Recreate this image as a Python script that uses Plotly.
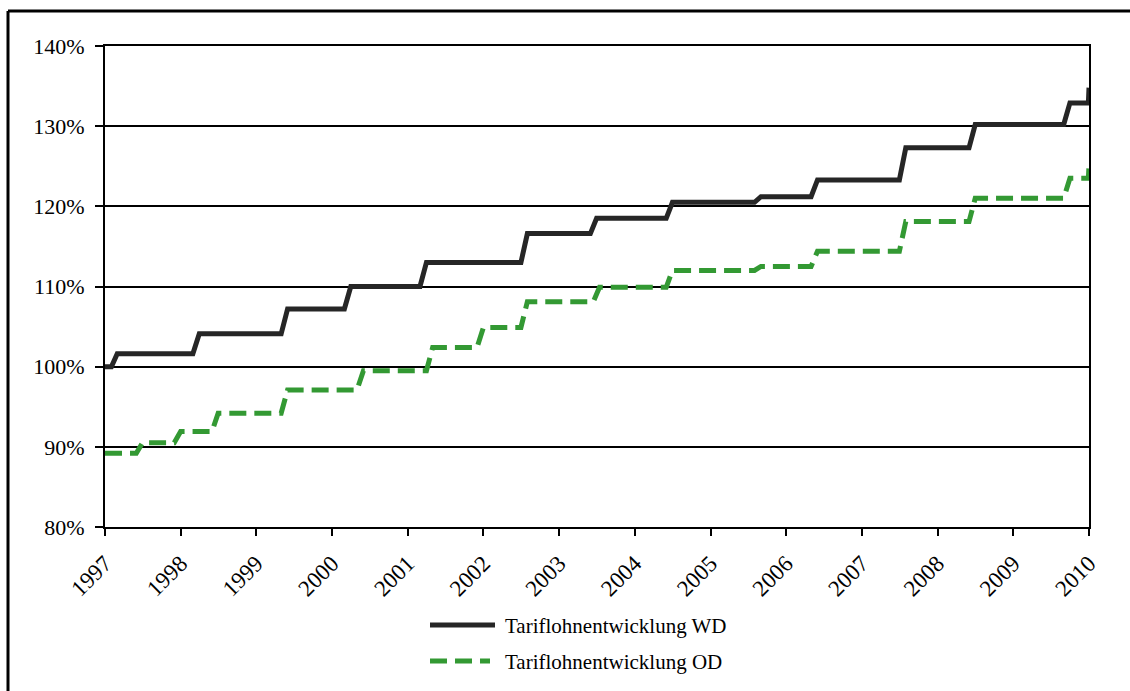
import plotly.graph_objects as go

# --- data ---
wd_dates = ["1997-01-01", "1997-02-01", "1997-03-01", "1998-03-01", "1998-04-01",
            "1999-05-01", "1999-06-01", "2000-03-01", "2000-04-01", "2001-03-01",
            "2001-04-01", "2002-07-01", "2002-08-01", "2003-06-01", "2003-07-01",
            "2004-06-01", "2004-07-01", "2005-08-01", "2005-09-01", "2006-05-01",
            "2006-06-01", "2007-07-01", "2007-08-01", "2008-06-01", "2008-07-01",
            "2009-09-01", "2009-10-01", "2009-12-29", "2010-01-01"]
wd_values = [100.0, 100.0, 101.6, 101.6, 104.1,
             104.1, 107.2, 107.2, 110.0, 110.0,
             113.0, 113.0, 116.6, 116.6, 118.5,
             118.5, 120.5, 120.5, 121.2, 121.2,
             123.3, 123.3, 127.3, 127.3, 130.2,
             130.2, 132.9, 132.9, 134.8]

od_dates = ["1997-01-01", "1997-06-01", "1997-07-01", "1997-12-01", "1998-01-01",
            "1998-06-01", "1998-07-01", "1999-05-01", "1999-06-01", "2000-05-01",
            "2000-06-01", "2001-04-01", "2001-05-01", "2001-12-01", "2002-01-01",
            "2002-07-01", "2002-08-01", "2003-06-15", "2003-07-15", "2004-06-01",
            "2004-07-01", "2005-08-01", "2005-09-01", "2006-05-01", "2006-06-01",
            "2007-07-01", "2007-08-01", "2008-06-01", "2008-07-01", "2009-09-01",
            "2009-10-01", "2009-12-29", "2010-01-01"]
od_values = [89.2, 89.2, 90.5, 90.5, 91.9,
             91.9, 94.2, 94.2, 97.1, 97.1,
             99.5, 99.5, 102.4, 102.4, 104.9,
             104.9, 108.1, 108.1, 109.9, 109.9,
             112.0, 112.0, 112.5, 112.5, 114.4,
             114.4, 118.1, 118.1, 121.0, 121.0,
             123.5, 123.5, 125.1]

year_labels = [str(y) for y in range(1997, 2011)]
year_ticks = [f"{y}-01-01" for y in year_labels]
y_ticks = [80, 90, 100, 110, 120, 130, 140]

series_names = ["Tariflohnentwicklung WD", "Tariflohnentwicklung OD"]
WD_COLOR = "#262626"
OD_COLOR = "#339933"
FONT = "Liberation Serif, Times New Roman, serif"

fig = go.Figure()
fig.add_trace(go.Scatter(x=wd_dates, y=wd_values, mode="lines", name=series_names[0],
                         line=dict(color=WD_COLOR, width=5), showlegend=False))
fig.add_trace(go.Scatter(x=od_dates, y=od_values, mode="lines", name=series_names[1],
                         line=dict(color=OD_COLOR, width=5, dash="17px,8px"),
                         showlegend=False))

W, H = 1130, 691
L, R, T, B = 105, 41, 46, 164
pw, ph = W - L - R, H - T - B


def px(xp):
    return (xp - L) / pw


def py(yp):
    return (H - B - yp) / ph


shapes = []
# outer frame (top and left edges visible)
shapes.append(dict(type="line", xref="paper", yref="paper", x0=px(8), x1=px(1140),
                   y0=py(11), y1=py(11), line=dict(color="black", width=3)))
shapes.append(dict(type="line", xref="paper", yref="paper", x0=px(8), x1=px(8),
                   y0=py(11), y1=py(700), line=dict(color="black", width=3)))
# manual legend samples
shapes.append(dict(type="line", xref="paper", yref="paper", x0=px(430), x1=px(495),
                   y0=py(625), y1=py(625), line=dict(color=WD_COLOR, width=5)))
shapes.append(dict(type="line", xref="paper", yref="paper", x0=px(430), x1=px(490),
                   y0=py(661), y1=py(661),
                   line=dict(color=OD_COLOR, width=5, dash="17px,8px")))

annotations = [
    dict(text=series_names[0], xref="paper", yref="paper", x=px(503), y=py(626),
         xanchor="left", yanchor="middle", showarrow=False,
         font=dict(family=FONT, size=21, color="black")),
    dict(text=series_names[1], xref="paper", yref="paper", x=px(503), y=py(662),
         xanchor="left", yanchor="middle", showarrow=False,
         font=dict(family=FONT, size=21, color="black")),
]

fig.update_layout(
    width=W, height=H,
    margin=dict(l=L, r=R, t=T, b=B, pad=0),
    paper_bgcolor="white", plot_bgcolor="white",
    font=dict(family=FONT, size=22, color="black"),
    shapes=shapes, annotations=annotations,
    showlegend=False,
)
fig.update_xaxes(
    type="date", range=["1997-01-01", "2010-01-01"],
    tickmode="array", tickvals=year_ticks, ticktext=year_labels,
    tickangle=-45, ticks="outside", ticklen=7, tickwidth=2, tickcolor="black",
    showline=True, linecolor="black", linewidth=2, mirror=True,
    showgrid=False, zeroline=False, ticklabelstandoff=5,
    tickfont=dict(family=FONT, size=23, color="black"),
)
fig.update_yaxes(
    range=[80, 140], tickmode="array", tickvals=y_ticks,
    ticktext=[f"{v}%" for v in y_ticks],
    ticks="outside", ticklen=8, tickwidth=2, tickcolor="black",
    showline=True, linecolor="black", linewidth=2, mirror=True,
    showgrid=True, gridcolor="black", gridwidth=2, zeroline=False,
    ticklabelstandoff=6,
    tickfont=dict(family=FONT, size=22, color="black"),
)

fig.write_html("out.html",
               config={"displayModeBar": False, "staticPlot": True},
               post_script="document.body.style.margin='0px';document.body.style.overflow='hidden';")
